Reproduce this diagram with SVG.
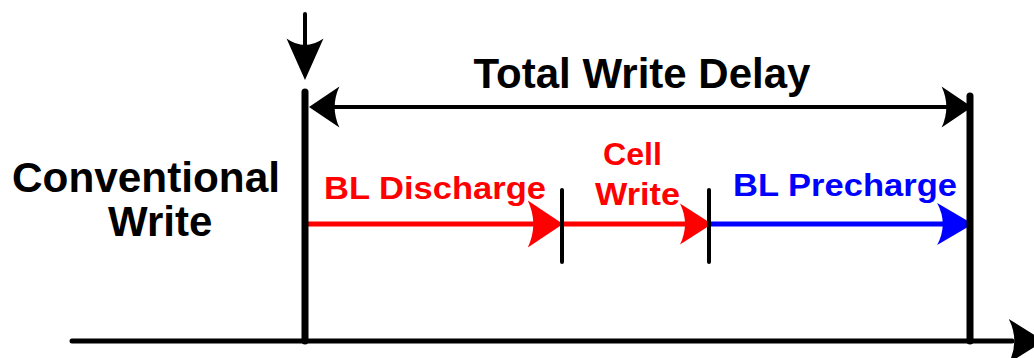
<svg xmlns="http://www.w3.org/2000/svg" width="1034" height="358" viewBox="0 0 1034 358">
  <style>
    .lbl { font-family: "Liberation Sans", Arial, sans-serif; font-weight: bold; }
    .big { font-size: 42px; fill: #000; }
    .seg { font-size: 32px; }
    .red { fill: #ff0000; }
    .blue { fill: #0000ff; }
    .bar { stroke: #000; stroke-width: 7; stroke-linecap: round; fill: none; }
    .tick { stroke: #000; stroke-width: 4; stroke-linecap: round; fill: none; }
    .axis { stroke: #000; stroke-width: 5; stroke-linecap: round; fill: none; }
    .dim { stroke: #000; stroke-width: 4; fill: none; }
    .redline { stroke: #ff0000; stroke-width: 5; fill: none; }
    .blueline { stroke: #0000ff; stroke-width: 5; fill: none; }
  </style>
  <defs>
    <!-- notched arrowhead, tip at origin, pointing +x -->
    <path id="head" d="M0,0 L-32,-21 Q-22,0 -32,21 Z"/>
  </defs>

  <g id="connectors">
    <!-- time axis -->
    <line class="axis" x1="72" y1="341" x2="1012" y2="341"/>
    <use href="#head" fill="#000" transform="translate(1044,341) scale(1.1,1.05)"/>

    <!-- start marker -->
    <line class="tick" x1="305" y1="14" x2="305" y2="50"/>
    <use href="#head" fill="#000" transform="translate(305,80) rotate(90) scale(1.3,0.88)"/>

    <!-- total delay dimension -->
    <line class="dim" x1="320" y1="107" x2="955" y2="107"/>
    <use href="#head" fill="#000" transform="translate(309,107) rotate(180) scale(0.95,0.98)"/>
    <use href="#head" fill="#000" transform="translate(972,107) scale(0.95,0.98)"/>

    <!-- phase arrows -->
    <line class="redline" x1="303" y1="224" x2="540" y2="224"/>
    <use href="#head" class="red" transform="translate(563,224) scale(1.1,1.12)"/>
    <line class="redline" x1="563" y1="224" x2="690" y2="224"/>
    <use href="#head" class="red" transform="translate(712,224) scale(1.0,0.98)"/>
    <line class="blueline" x1="710" y1="224" x2="950" y2="224"/>
    <use href="#head" class="blue" transform="translate(973,224) scale(1.12,1.0)"/>
  </g>

  <g id="start-bar">
    <line class="bar" x1="305" y1="92" x2="305" y2="341"/>
  </g>
  <g id="end-bar">
    <line class="bar" x1="970" y1="96" x2="970" y2="341"/>
  </g>
  <g id="phase-ticks">
    <line class="tick" x1="562" y1="190" x2="562" y2="262"/>
    <line class="tick" x1="709" y1="190" x2="709" y2="262"/>
  </g>

  <g id="total-label">
    <text class="lbl big" x="642" y="88" text-anchor="middle">Total Write Delay</text>
  </g>
  <g id="row-label">
    <text class="lbl big" x="12" y="192" textLength="268" lengthAdjust="spacingAndGlyphs">Conventional</text>
    <text class="lbl big" x="108" y="236">Write</text>
  </g>
  <g id="bl-discharge">
    <text class="lbl seg red" x="324" y="199" textLength="222" lengthAdjust="spacingAndGlyphs">BL Discharge</text>
  </g>
  <g id="cell-write">
    <text class="lbl seg red" x="603" y="165" textLength="59" lengthAdjust="spacingAndGlyphs">Cell</text>
    <text class="lbl seg red" x="595" y="205" textLength="85" lengthAdjust="spacingAndGlyphs">Write</text>
  </g>
  <g id="bl-precharge">
    <text class="lbl seg blue" x="733" y="196" textLength="224" lengthAdjust="spacingAndGlyphs">BL Precharge</text>
  </g>
</svg>
